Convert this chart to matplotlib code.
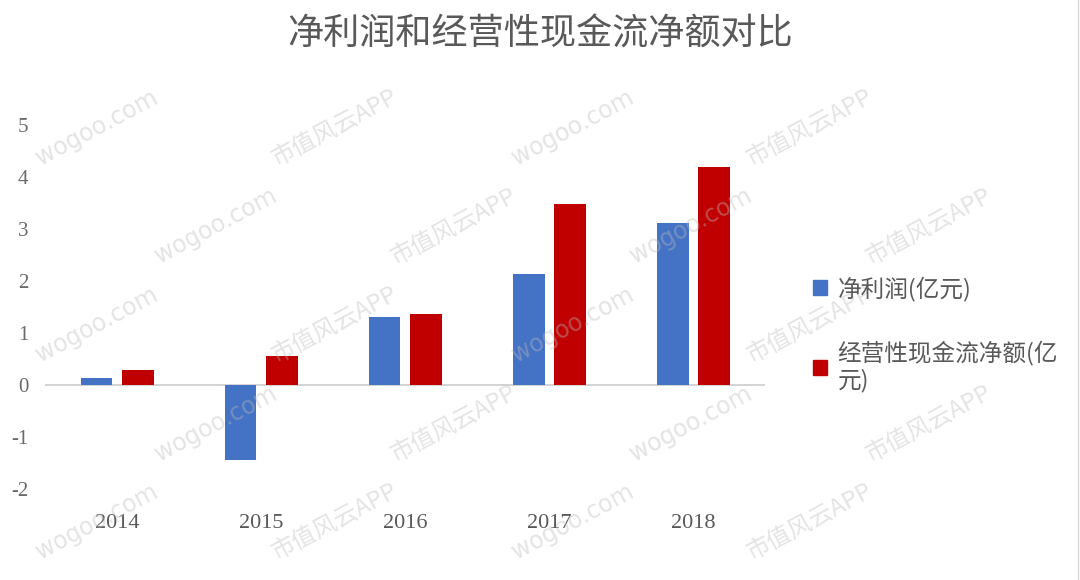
import numpy as np
from matplotlib import pyplot as plt
from matplotlib.patches import Patch

# =========================
# Data
# =========================
YEARS = ["2014", "2015", "2016", "2017", "2018"]
NET_PROFIT = [0.14, -1.45, 1.30, 2.14, 3.12]
OPER_CASH = [0.29, 0.55, 1.37, 3.47, 4.19]
Y_TICKS = [-2, -1, 0, 1, 2, 3, 4, 5]

TITLE = "净利润和经营性现金流净额对比"
LABEL_PROFIT = "净利润(亿元)"
LABEL_CASH = "经营性现金流净额(亿\n元)"
WATERMARKS = ["wogoo.com", "市值风云APP"]

# Styling
BLUE = "#4472C4"
RED = "#C00000"
TEXT_GREY = "#595959"
CJK = ["Noto Sans CJK SC", "DejaVu Sans"]

plt.rcParams["font.family"] = CJK

BAR_W = 0.22
OFFSET = 0.143


def draw_watermarks(fig):
    # faint diagonal watermark tiles over the chart, kept inside the frame
    k = 0
    for row, yy in enumerate(np.arange(0.10, 0.95, 0.17)):
        shift = 0.11 * (row % 2)
        for xx in np.arange(0.09 + shift, 0.93, 0.22):
            fig.text(xx, yy, WATERMARKS[k % 2], rotation=28, fontsize=17,
                     color="#bbbbbb", alpha=0.4, ha="center", va="center",
                     family=["DejaVu Sans"] if k % 2 == 0 else CJK, zorder=0)
            k += 1


def main():
    fig = plt.figure(figsize=(10.8, 5.8), dpi=100)
    draw_watermarks(fig)

    ax = fig.add_axes([0.0417, 0.157, 0.667, 0.628])
    ax.patch.set_alpha(0)

    x = np.arange(len(YEARS))
    ax.bar(x - OFFSET, NET_PROFIT, width=BAR_W, color=BLUE, zorder=3)
    ax.bar(x + OFFSET, OPER_CASH, width=BAR_W, color=RED, zorder=3)
    ax.axhline(0, color="#d0d0d0", lw=1.3, zorder=2)

    ax.set_xlim(-0.5, len(YEARS) - 0.5)
    ax.set_ylim(-2, 5)
    ax.set_yticks(Y_TICKS)
    ax.set_yticklabels([str(v) for v in Y_TICKS], family="Liberation Serif",
                       fontsize=15, color="#6a6a6a")
    ax.set_xticks(x)
    ax.set_xticklabels(YEARS, family="Liberation Serif", fontsize=16, color=TEXT_GREY)
    ax.tick_params(axis="both", length=0)
    ax.tick_params(axis="y", pad=12)
    ax.tick_params(axis="x", pad=18)
    for sp in ax.spines.values():
        sp.set_visible(False)

    fig.text(0.5, 0.94, TITLE, ha="center", va="center", fontsize=26, color=TEXT_GREY)

    handles = [Patch(color=BLUE), Patch(color=RED)]
    leg = fig.legend(handles, [LABEL_PROFIT, LABEL_CASH], loc="upper left",
                     bbox_to_anchor=(0.733, 0.56), frameon=False,
                     fontsize=17, handlelength=0.6, handleheight=0.6,
                     handletextpad=0.45, labelspacing=1.65, alignment="left")
    for t in leg.get_texts():
        t.set_color(TEXT_GREY)

    # thin right border of the original chart frame
    fig.add_artist(plt.Line2D([0.998, 0.998], [0.0, 1.0], color="#d9d9d9", lw=1))

    fig.savefig("out.png", dpi=100)
    plt.close(fig)


if __name__ == "__main__":
    main()
